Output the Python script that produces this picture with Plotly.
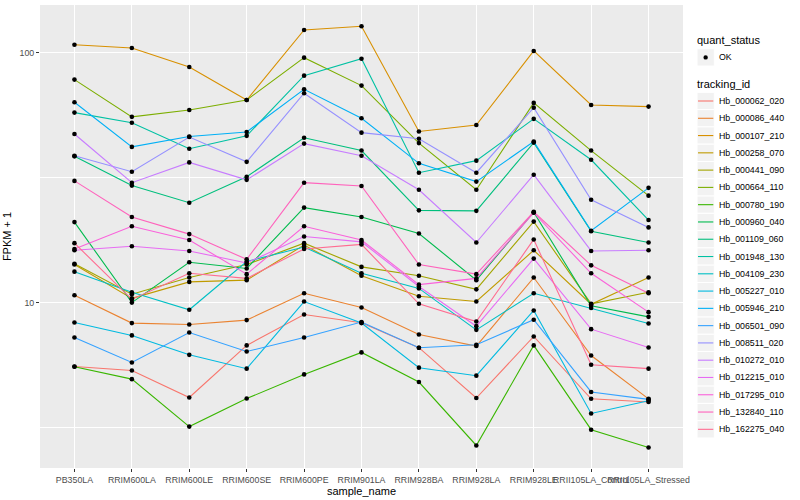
import plotly.graph_objects as go

samples = ["PB350LA", "RRIM600LA", "RRIM600LE", "RRIM600SE", "RRIM600PE", "RRIM901LA",
           "RRIM928BA", "RRIM928LA", "RRIM928LE", "RRII105LA_Control", "RRII105LA_Stressed"]

tracking_ids = ["Hb_000062_020", "Hb_000086_440", "Hb_000107_210", "Hb_000258_070", "Hb_000441_090",
                "Hb_000664_110", "Hb_000780_190", "Hb_000960_040", "Hb_001109_060", "Hb_001948_130",
                "Hb_004109_230", "Hb_005227_010", "Hb_005946_210", "Hb_006501_090", "Hb_008511_020",
                "Hb_010272_010", "Hb_012215_010", "Hb_017295_010", "Hb_132840_110", "Hb_162275_040"]

colors = ["#F8766D", "#EA8331", "#D89000", "#C09B00", "#A3A500", "#7CAE00", "#39B600", "#00BB4E",
          "#00BF7D", "#00C1A3", "#00BFC4", "#00BAE0", "#00B0F6", "#35A2FF", "#9590FF", "#C77CFF",
          "#E76BF3", "#FA62DB", "#FF62BC", "#FF6C91"]

quant_status = ["OK"]

# FPKM + 1 per tracking_id, in sample order
Hb_000062_020 = [5.55, 5.35, 4.17, 6.74, 8.96, 8.30, 6.60, 4.15, 7.32, 4.12, 4.00]
Hb_000086_440 = [10.7, 8.28, 8.17, 8.51, 10.9, 9.56, 7.45, 6.70, 12.6, 6.14, 4.12]
Hb_000107_210 = [107.7, 104.5, 87.7, 64.7, 123.4, 127.6, 48.4, 51.4, 101.7, 61.8, 60.9]
Hb_000258_070 = [14.2, 10.4, 12.1, 12.3, 17.0, 12.8, 10.6, 10.1, 16.2, 9.85, 12.6]
Hb_000441_090 = [14.3, 10.8, 12.6, 14.2, 17.3, 13.9, 12.8, 11.3, 21.1, 9.89, 11.0]
Hb_000664_110 = [78.1, 55.4, 59.0, 64.7, 95.6, 73.9, 43.5, 28.3, 63.0, 40.6, 26.8]
Hb_000780_190 = [5.54, 4.94, 3.19, 4.13, 5.16, 6.32, 4.81, 2.68, 6.74, 3.10, 2.63]
Hb_000960_040 = [21.0, 10.0, 14.5, 13.7, 24.0, 22.0, 18.9, 12.3, 23.0, 9.71, 8.77]
Hb_001109_060 = [38.5, 29.4, 25.1, 31.9, 45.7, 40.6, 23.4, 23.3, 43.7, 19.3, 17.4]
Hb_001948_130 = [57.6, 52.5, 41.3, 46.5, 81.0, 94.7, 33.1, 37.0, 54.4, 37.3, 21.4]
Hb_004109_230 = [13.3, 11.0, 9.36, 14.6, 16.7, 13.1, 11.4, 7.78, 10.9, 9.51, 8.25]
Hb_005227_010 = [8.33, 7.39, 6.18, 5.44, 10.1, 8.28, 5.49, 5.10, 9.30, 3.60, 4.05]
Hb_005946_210 = [63.4, 42.0, 46.2, 48.2, 71.4, 54.7, 36.1, 30.5, 44.1, 19.4, 28.8]
Hb_006501_090 = [7.25, 5.76, 7.59, 6.37, 7.25, 8.36, 6.60, 6.78, 8.54, 4.39, 4.10]
Hb_008511_020 = [38.7, 33.4, 46.0, 36.6, 68.9, 47.9, 45.3, 33.1, 60.3, 25.8, 20.0]
Hb_010272_010 = [47.3, 30.2, 36.4, 31.0, 43.3, 38.7, 28.3, 17.4, 32.5, 16.1, 16.2]
Hb_012215_010 = [16.2, 16.8, 16.1, 14.4, 18.4, 17.5, 11.6, 8.05, 15.0, 7.83, 6.61]
Hb_017295_010 = [16.4, 20.2, 17.8, 13.0, 20.2, 17.8, 11.8, 12.5, 22.9, 13.1, 9.16]
Hb_132840_110 = [30.7, 22.0, 18.8, 14.9, 30.2, 29.3, 14.2, 13.0, 23.1, 14.1, 10.9]
Hb_162275_040 = [17.3, 10.3, 13.1, 12.5, 16.4, 17.1, 9.89, 8.40, 17.9, 5.64, 5.44]

series = [Hb_000062_020, Hb_000086_440, Hb_000107_210, Hb_000258_070, Hb_000441_090,
          Hb_000664_110, Hb_000780_190, Hb_000960_040, Hb_001109_060, Hb_001948_130,
          Hb_004109_230, Hb_005227_010, Hb_005946_210, Hb_006501_090, Hb_008511_020,
          Hb_010272_010, Hb_012215_010, Hb_017295_010, Hb_132840_110, Hb_162275_040]

FONT = "Liberation Sans, Arial, sans-serif"
W, H = 800, 500
ML, MR, MT, MB = 40, 117, 5, 32
PW, PH = W - ML - MR, H - MT - MB


def px(x):
    return (x - ML) / PW


def py(y):
    return (H - MB - y) / PH


fig = go.Figure()

for tid, vals, col in zip(tracking_ids, series, colors):
    fig.add_trace(go.Scatter(
        x=samples, y=vals, mode="lines", name=tid,
        line=dict(color=col, width=1.1), showlegend=False))

for tid, vals in zip(tracking_ids, series):
    fig.add_trace(go.Scatter(
        x=samples, y=vals, mode="markers", name=tid,
        marker=dict(color="black", size=4.6), showlegend=False))

# ---- ggplot-style legends (manual) ----
shapes = []
annotations = []
KX0, KX1 = 697, 714.3
KEY = 17.28
TXT_X = 716.5

annotations.append(dict(text="quant_status", x=px(695), y=py(40), xref="paper", yref="paper",
                        xanchor="left", yanchor="middle", showarrow=False,
                        font=dict(size=11, color="black", family=FONT)))
yc = 57.4
for j, qs in enumerate(quant_status):
    yy = yc + j * KEY
    shapes.append(dict(type="rect", xref="paper", yref="paper",
                       x0=px(KX0), x1=px(KX1), y0=py(yy - KEY / 2), y1=py(yy + KEY / 2),
                       fillcolor="#F2F2F2", line=dict(color="white", width=1), layer="below"))
    shapes.append(dict(type="circle", xref="paper", yref="paper",
                       x0=px((KX0 + KX1) / 2 - 2.2), x1=px((KX0 + KX1) / 2 + 2.2),
                       y0=py(yy - 2.2), y1=py(yy + 2.2),
                       fillcolor="black", line=dict(color="black", width=0)))
    annotations.append(dict(text=qs, x=px(TXT_X), y=py(yy), xref="paper", yref="paper",
                            xanchor="left", yanchor="middle", showarrow=False,
                            font=dict(size=8.8, color="black", family=FONT)))

annotations.append(dict(text="tracking_id", x=px(695), y=py(84.5), xref="paper", yref="paper",
                        xanchor="left", yanchor="middle", showarrow=False,
                        font=dict(size=11, color="black", family=FONT)))
y0 = 101.0
for i, (tid, col) in enumerate(zip(tracking_ids, colors)):
    yy = y0 + i * KEY
    shapes.append(dict(type="rect", xref="paper", yref="paper",
                       x0=px(KX0), x1=px(KX1), y0=py(yy - KEY / 2), y1=py(yy + KEY / 2),
                       fillcolor="#F2F2F2", line=dict(color="white", width=1), layer="below"))
    shapes.append(dict(type="line", xref="paper", yref="paper",
                       x0=px(KX0 + 1), x1=px(KX1 - 1), y0=py(yy), y1=py(yy),
                       line=dict(color=col, width=1.1)))
    annotations.append(dict(text=tid, x=px(TXT_X), y=py(yy), xref="paper", yref="paper",
                            xanchor="left", yanchor="middle", showarrow=False,
                            font=dict(size=8.8, color="black", family=FONT)))

fig.update_layout(
    width=W, height=H,
    margin=dict(l=ML, r=MR, t=MT, b=MB),
    paper_bgcolor="white", plot_bgcolor="#EBEBEB",
    font=dict(family=FONT, size=8.8, color="#4D4D4D"),
    showlegend=False,
    shapes=shapes, annotations=annotations,
    xaxis=dict(
        type="category", categoryorder="array", categoryarray=samples,
        range=[-0.6, 10.6], tickangle=0, automargin=False,
        showgrid=True, gridcolor="white", gridwidth=1.1,
        ticks="outside", ticklen=3, tickcolor="#333333", tickwidth=1,
        tickfont=dict(size=8.8, color="#4D4D4D", family=FONT),
        title=dict(text="sample_name", font=dict(size=11, color="black", family=FONT), standoff=1),
        showline=False, zeroline=False),
    yaxis=dict(
        type="log", range=[0.338, 2.1912], automargin=False,
        tickmode="array", tickvals=[10, 100], ticktext=["10", "100"],
        showgrid=True, gridcolor="white", gridwidth=1.1,
        minor=dict(tickmode="array", tickvals=[3.1623, 31.623], showgrid=True,
                   gridcolor="white", gridwidth=0.55, ticks=""),
        ticks="outside", ticklen=3, tickcolor="#333333", tickwidth=1,
        tickfont=dict(size=8.8, color="#4D4D4D", family=FONT),
        title=dict(text="FPKM + 1", font=dict(size=11, color="black", family=FONT), standoff=5),
        showline=False, zeroline=False),
)

fig.write_html("out.html", config={"displayModeBar": False},
               post_script="document.body.style.margin='0px';")
